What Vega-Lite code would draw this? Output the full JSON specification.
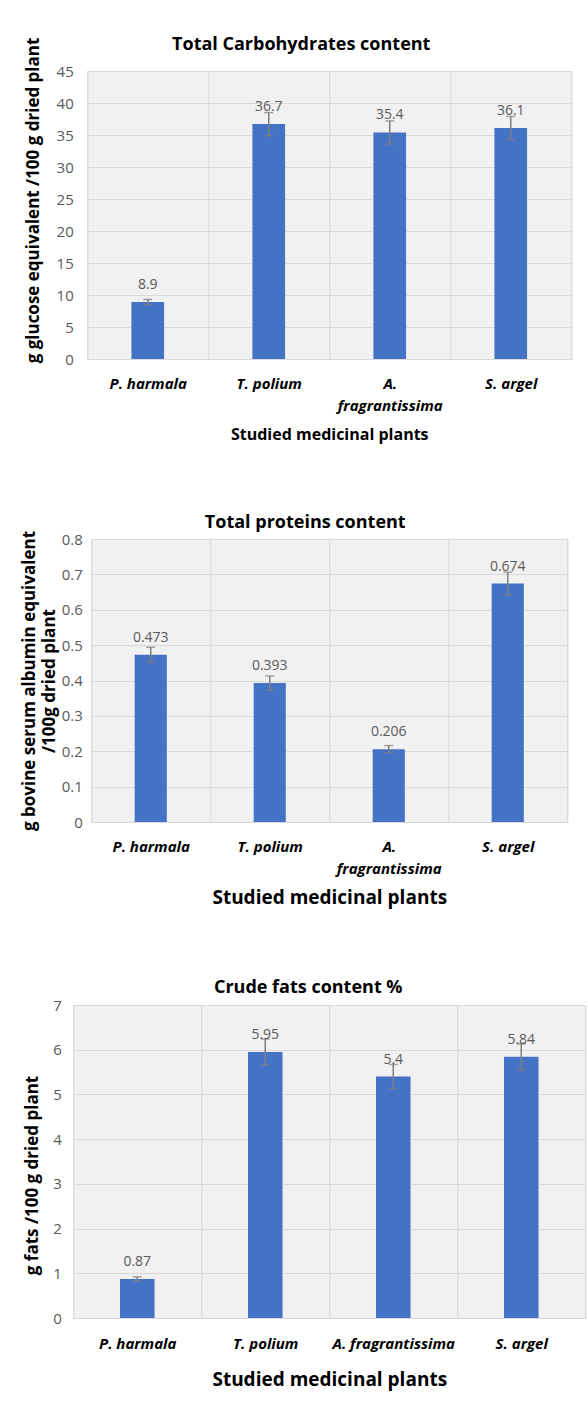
{
  "$schema": "https://vega.github.io/schema/vega-lite/v6.json",
  "padding": {"left": 19, "top": 35, "right": 3, "bottom": 5},
  "background": "white",
  "spacing": 70,
  "center": true,
  "config": {
    "font": "Open Sans",
    "view": {"stroke": "#d9d9d9", "fill": "#f1f1f1"},
    "axis": {"gridColor": "#d9d9d9", "domain": false, "ticks": false, "tickSize": 0, "labelColor": "#595959", "labelFontSize": 15, "titleColor": "#000000", "titleFontWeight": "bold", "labelOverlap": false},
    "axisX": {"labelAngle": 0, "labelFontWeight": "bold", "labelFontStyle": "italic", "labelColor": "#000000", "labelBaseline": "top", "grid": true, "tickBand": "extent", "domain": true, "domainColor": "#d9d9d9", "labelLineHeight": 22},
    "title": {"fontSize": 18, "fontWeight": "bold", "color": "#000000", "anchor": "middle"}
  },
  "datasets": {
    "carb": [
      {"plant": "P. harmala", "value": 8.9, "lo": 8.5, "hi": 9.3},
      {"plant": "T. polium", "value": 36.7, "lo": 34.9, "hi": 38.5},
      {"plant": "A. fragrantissima", "value": 35.4, "lo": 33.6, "hi": 37.2},
      {"plant": "S. argel", "value": 36.1, "lo": 34.3, "hi": 37.9}
    ],
    "prot": [
      {"plant": "P. harmala", "value": 0.473, "lo": 0.452, "hi": 0.494},
      {"plant": "T. polium", "value": 0.393, "lo": 0.373, "hi": 0.413},
      {"plant": "A. fragrantissima", "value": 0.206, "lo": 0.196, "hi": 0.216},
      {"plant": "S. argel", "value": 0.674, "lo": 0.642, "hi": 0.706}
    ],
    "fat": [
      {"plant": "P. harmala", "value": 0.87, "lo": 0.82, "hi": 0.92},
      {"plant": "T. polium", "value": 5.95, "lo": 5.66, "hi": 6.24},
      {"plant": "A. fragrantissima", "value": 5.4, "lo": 5.13, "hi": 5.67},
      {"plant": "S. argel", "value": 5.84, "lo": 5.55, "hi": 6.13}
    ]
  },
  "vconcat": [
    {
      "width": 484,
      "height": 288,
      "title": {"text": "Total Carbohydrates content", "dx": -28, "offset": -17},
      "data": {"name": "carb"},
      "encoding": {
        "x": {"field": "plant", "type": "nominal", "sort": null, "scale": {"paddingInner": 0, "paddingOuter": 0},
          "axis": {"title": "Studied medicinal plants", "titleFontSize": 16, "titlePadding": 13, "labelPadding": 17,
            "labelExpr": "datum.value == 'A. fragrantissima' ? ['A.', 'fragrantissima'] : datum.label"}},
        "y": {"field": "value", "type": "quantitative", "scale": {"domain": [0, 45]},
          "axis": {"title": "g glucose equivalent /100 g dried plant", "titleFontSize": 17, "titlePadding": 10.5, "titleY": 129, "labelPadding": 14, "minExtent": 34, "maxExtent": 34, "values": [0, 5, 10, 15, 20, 25, 30, 35, 40, 45], "format": "~g"}}
      },
      "layer": [
        {"mark": {"type": "bar", "color": "#4472C4", "width": {"band": 0.27}}},
        {"mark": {"type": "rule", "color": "#7f7f7f", "strokeWidth": 1.5},
          "encoding": {"y": {"field": "lo", "type": "quantitative"}, "y2": {"field": "hi"}}},
        {"mark": {"type": "tick", "color": "#7f7f7f", "thickness": 1.5, "size": 9},
          "encoding": {"y": {"field": "lo", "type": "quantitative"}}},
        {"mark": {"type": "tick", "color": "#7f7f7f", "thickness": 1.5, "size": 9},
          "encoding": {"y": {"field": "hi", "type": "quantitative"}}},
        {"mark": {"type": "text", "color": "#595959", "fontSize": 14, "baseline": "alphabetic", "dy": -13},
          "encoding": {"text": {"field": "value", "type": "nominal"}}}
      ]
    },
    {
      "width": 476,
      "height": 283,
      "title": {"text": "Total proteins content", "dx": -24, "offset": -2},
      "data": {"name": "prot"},
      "encoding": {
        "x": {"field": "plant", "type": "nominal", "sort": null, "scale": {"paddingInner": 0, "paddingOuter": 0},
          "axis": {"title": "Studied medicinal plants", "titleFontSize": 19, "titlePadding": 12, "labelPadding": 17,
            "labelExpr": "datum.value == 'A. fragrantissima' ? ['A.', 'fragrantissima'] : datum.label"}},
        "y": {"field": "value", "type": "quantitative", "scale": {"domain": [0, 0.8]},
          "axis": {"title": ["g bovine serum albumin equivalent", "/100g dried plant"], "titleFontSize": 17, "titleLineHeight": 20, "titlePadding": 0, "labelPadding": 9, "minExtent": 33, "maxExtent": 33, "values": [0, 0.1, 0.2, 0.3, 0.4, 0.5, 0.6, 0.7, 0.8], "format": "~g"}}
      },
      "layer": [
        {"mark": {"type": "bar", "color": "#4472C4", "width": {"band": 0.27}}},
        {"mark": {"type": "rule", "color": "#7f7f7f", "strokeWidth": 1.5},
          "encoding": {"y": {"field": "lo", "type": "quantitative"}, "y2": {"field": "hi"}}},
        {"mark": {"type": "tick", "color": "#7f7f7f", "thickness": 1.5, "size": 9},
          "encoding": {"y": {"field": "lo", "type": "quantitative"}}},
        {"mark": {"type": "tick", "color": "#7f7f7f", "thickness": 1.5, "size": 9},
          "encoding": {"y": {"field": "hi", "type": "quantitative"}}},
        {"mark": {"type": "text", "color": "#595959", "fontSize": 14, "baseline": "alphabetic", "dy": -13},
          "encoding": {"text": {"field": "value", "type": "nominal"}}}
      ]
    },
    {
      "width": 512,
      "height": 313,
      "title": {"text": "Crude fats content %", "dx": -21, "offset": 1},
      "data": {"name": "fat"},
      "encoding": {
        "x": {"field": "plant", "type": "nominal", "sort": null, "scale": {"paddingInner": 0, "paddingOuter": 0},
          "axis": {"title": "Studied medicinal plants", "titleFontSize": 19, "titlePadding": 19, "labelPadding": 18}},
        "y": {"field": "value", "type": "quantitative", "scale": {"domain": [0, 7]},
          "axis": {"title": "g fats /100 g dried plant", "titleFontSize": 17, "titlePadding": 7.5, "titleY": 170, "labelPadding": 12, "minExtent": 24, "maxExtent": 24, "values": [0, 1, 2, 3, 4, 5, 6, 7], "format": "~g"}}
      },
      "layer": [
        {"mark": {"type": "bar", "color": "#4472C4", "width": {"band": 0.27}}},
        {"mark": {"type": "rule", "color": "#7f7f7f", "strokeWidth": 1.5},
          "encoding": {"y": {"field": "lo", "type": "quantitative"}, "y2": {"field": "hi"}}},
        {"mark": {"type": "tick", "color": "#7f7f7f", "thickness": 1.5, "size": 9},
          "encoding": {"y": {"field": "lo", "type": "quantitative"}}},
        {"mark": {"type": "tick", "color": "#7f7f7f", "thickness": 1.5, "size": 9},
          "encoding": {"y": {"field": "hi", "type": "quantitative"}}},
        {"mark": {"type": "text", "color": "#595959", "fontSize": 14, "baseline": "alphabetic", "dy": -13},
          "encoding": {"text": {"field": "value", "type": "nominal"}}}
      ]
    }
  ]
}
